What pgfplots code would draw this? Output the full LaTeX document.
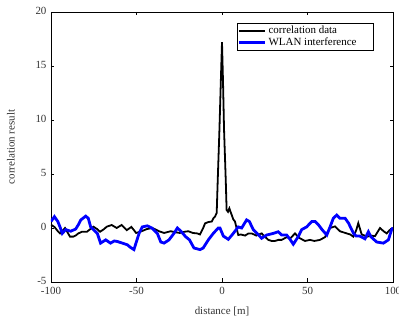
\documentclass[border=0pt]{standalone}
\usepackage{pgfplots}
\pgfplotsset{compat=1.18}
\usepackage{fontspec}
\setmainfont{Liberation Serif}
\begin{document}
\begin{tikzpicture}
\useasboundingbox (-51bp,-34bp) rectangle (348bp,282bp);
\begin{axis}[
  at={(0,0)}, anchor=south west,
  scale only axis, width=342bp, height=270bp,
  xmin=-100, xmax=100, ymin=-5, ymax=20,
  xtick={-100,-50,0,50,100}, ytick={-5,0,5,10,15,20},
  tick align=inside, tick pos=both,
  major tick length=3.5bp,
  axis line style={line width=0.9pt},
  every tick/.style={black, line width=0.5pt},
  /pgf/number format/assume math mode=true,
  tick label style={font=\fontsize{11}{12}\selectfont, text=black!80},
  yticklabel style={xshift=-1bp, yshift=1bp},
  xticklabel style={yshift=-2bp},
  xlabel={distance [m]},
  ylabel={correlation result},
  label style={font=\fontsize{11}{12}\selectfont, text=black!80},
  xlabel style={at={(axis description cs:0.5,-0.11)}, anchor=center},
  ylabel style={at={(axis description cs:-0.117,0.5)}, anchor=center},
  legend style={at={(rel axis cs:0.9425,0.958)}, anchor=north east, draw=black, line width=0.6pt,
     font=\fontsize{11}{12}\selectfont, inner sep=0.5pt, row sep=-1pt,
     legend cell align=left},
  legend image code/.code={\draw[#1] (-2bp,0bp) -- (24bp,0bp);},
]
\addplot[black, line width=1.8pt] coordinates {
(-100,0.3) (-98,0.1) (-96,-0.3) (-94.7,-0.5) (-93,-0.2) (-91.8,0) (-90,-0.5) (-88.9,-0.8)
(-87,-0.8) (-85.6,-0.7) (-84,-0.5) (-81.9,-0.35) (-79,-0.35) (-77,-0.1) (-75.2,0.12)
(-73,-0.1) (-71.3,-0.35) (-69,-0.1) (-67.4,0.12) (-64.5,0.28) (-61.6,0) (-58.7,0.28)
(-55.7,-0.2) (-53,0.1) (-50.2,-0.46) (-47,-0.3) (-44,-0.1) (-40.7,0) (-38,-0.2)
(-36.8,-0.3) (-33.9,-0.46) (-30,-0.3) (-27,-0.4) (-24.6,-0.46) (-22,-0.35) (-19.7,-0.3)
(-17,-0.46) (-14.5,-0.5) (-12.9,-0.6) (-11,0) (-9.9,0.43) (-8,0.55) (-6,0.6) (-5,0.9)
(-4.1,1.05) (-3.1,1.4) (-2.5,4.4) (-1.5,9.1) (-0.7,13.5) (0,17.2) (0.6,13.5) (1.2,9.1)
(2.2,4.4) (2.7,1.67) (3.5,1.5) (4.3,1.82) (5,1.5) (5.7,1.2) (6.6,0.8) (7.6,0.6) (8.5,0)
(9.5,-0.65) (11,-0.6) (13.5,-0.7) (15.5,-0.5) (17.4,-0.5) (20,-0.7) (23.2,-0.5) (25,-0.8)
(27.1,-1.1) (29,-1.2) (31,-1.2) (33,-1.1) (34.9,-1.1) (37.8,-0.85) (40,-0.95) (42.7,-0.5)
(45,-0.9) (48.5,-1.2) (51.5,-1.1) (54,-1.2) (57.3,-1.1) (60.2,-0.85) (62,-0.3) (63.2,0)
(66.1,0.15) (69,-0.3) (72.9,-0.5) (75,-0.6) (76.8,-0.8) (78.5,-0.2) (79.7,0.45) (81.7,-0.6)
(85,-0.8) (87,-0.7) (89.5,-0.75) (92.4,0) (94.5,-0.3) (96.3,-0.5) (98,-0.2) (100,0)
};
\addlegendentry{correlation data}
\addplot[blue, line width=2.8pt] coordinates {
(-100,0.6) (-98,1.05) (-96,0.6) (-94.5,0) (-93.4,-0.5) (-91.4,-0.15) (-88.5,-0.3) (-85.6,-0.1)
(-84,0.3) (-82.6,0.74) (-79.7,1.1) (-78.2,0.9) (-76.8,0.1) (-74.8,-0.2) (-72.9,-0.5)
(-71,-1.4) (-68,-1.1) (-65.2,-1.4) (-63,-1.2) (-61.2,-1.25) (-58.3,-1.4) (-55.4,-1.55)
(-53.5,-1.8) (-51.5,-2.0) (-48.5,-0.5) (-46.6,0.1) (-43.7,0.2) (-41,0) (-37.8,-0.5)
(-35.8,-1.3) (-33.9,-1.4) (-31,-1.1) (-28.1,-0.5) (-26.1,0) (-24,-0.3) (-21.3,-0.8)
(-19,-1.1) (-16.4,-1.85) (-12.9,-2.0) (-11,-1.85) (-8,-1.1) (-5.1,-0.5) (-2.2,0) (-1.2,0)
(0.8,-0.75) (3.7,-1.05) (6.6,-0.5) (9.5,0.1) (11.5,0) (14.4,0.75) (16,0.6) (18.3,-0.15)
(20.5,-0.5) (23.2,-0.95) (26.1,-0.65) (30,-0.5) (32.9,-0.35) (34.9,-0.65) (37.8,-0.65)
(39.8,-1.05) (41.7,-1.5) (44.6,-0.8) (46.6,-0.15) (49.5,0.1) (52.5,0.6) (54.5,0.6)
(56.4,0.3) (58.5,-0.15) (61.3,-0.65) (63.2,0.1) (65.1,0.9) (67.1,1.2) (69,0.9) (72,0.9)
(74,0.45) (76.9,-0.5) (78.5,-0.75) (80.5,-0.75) (83.6,-1.0) (85.6,-0.35) (87,-0.8)
(90.5,-1.3) (94.4,-1.4) (97.3,-1.1) (99.3,-0.1) (100,0)
};
\addlegendentry{WLAN interference\hspace*{14bp}}
\end{axis}
\end{tikzpicture}
\end{document}
